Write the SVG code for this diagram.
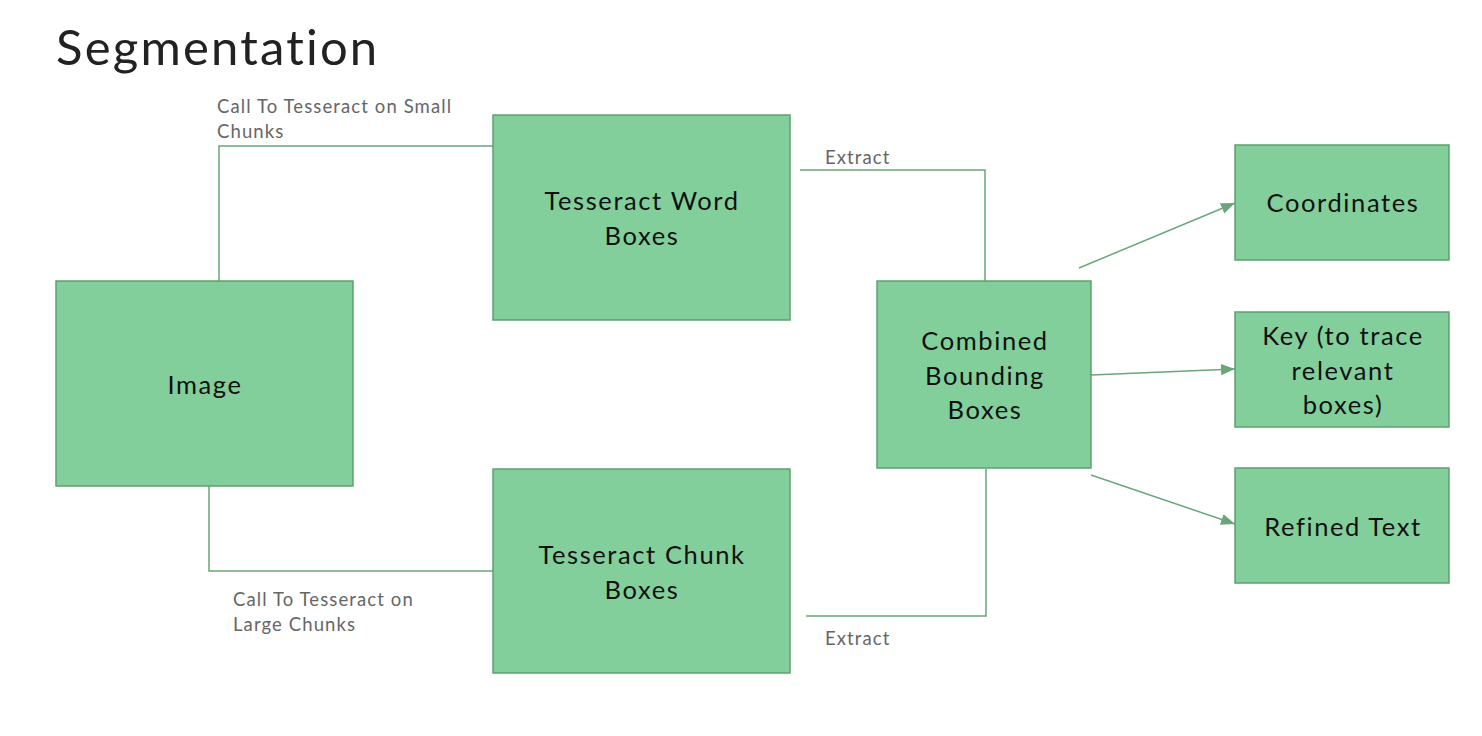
<svg xmlns="http://www.w3.org/2000/svg" width="1482" height="736" viewBox="0 0 1482 736">
<defs>
<style>
.box{fill:#82cf9c;stroke:#5f9f70;stroke-width:1.5}
.nt{font-family:Lato,"Open Sans",sans-serif;font-size:25.5px;letter-spacing:1.6px;fill:#111;text-anchor:middle}
.lb{font-family:Lato,"Open Sans",sans-serif;font-size:18.5px;letter-spacing:1.1px;fill:#666}
.cn{fill:none;stroke:#6aa67a;stroke-width:1.5}
</style>
<marker id="ah2" viewBox="0 0 10 10" refX="10" refY="5" markerWidth="14" markerHeight="14" orient="auto" markerUnits="userSpaceOnUse">
<path d="M0,1 L10,5 L0,9 z" fill="#6aa67a"/>
</marker>
</defs>
<rect width="1482" height="736" fill="#fff"/>
<text x="56" y="65" font-family="Lato,'Open Sans',sans-serif" font-size="49" letter-spacing="2.2" fill="#222">Segmentation</text>
<g id="connectors">
<path class="cn" d="M219,284 V146 H493"/>
<path class="cn" d="M209,484 V571 H493"/>
<path class="cn" d="M800,170 H985 V281"/>
<path class="cn" d="M806,616 H986 V469"/>
<line class="cn" x1="1079" y1="268" x2="1235" y2="203" marker-end="url(#ah2)"/>
<line class="cn" x1="1091" y1="375" x2="1235" y2="369" marker-end="url(#ah2)"/>
<line class="cn" x1="1091" y1="475" x2="1235" y2="524" marker-end="url(#ah2)"/>
<text class="lb" x="217" y="113">Call To Tesseract on Small</text>
<text class="lb" x="217" y="138">Chunks</text>
<text class="lb" x="233" y="606">Call To Tesseract on</text>
<text class="lb" x="233" y="631">Large Chunks</text>
<text class="lb" x="825" y="164">Extract</text>
<text class="lb" x="825" y="645">Extract</text>
</g>
<g id="image"><rect class="box" x="56" y="281" width="297" height="205"/><text class="nt" x="205" y="394">Image</text></g>
<g id="word"><rect class="box" x="493" y="115" width="297" height="205"/><text class="nt" x="642" y="210">Tesseract Word</text><text class="nt" x="642" y="245">Boxes</text></g>
<g id="chunk"><rect class="box" x="493" y="469" width="297" height="204"/><text class="nt" x="642" y="564">Tesseract Chunk</text><text class="nt" x="642" y="599">Boxes</text></g>
<g id="combined"><rect class="box" x="877" y="281" width="214" height="187"/><text class="nt" x="985" y="350">Combined</text><text class="nt" x="985" y="385">Bounding</text><text class="nt" x="985" y="419">Boxes</text></g>
<g id="coords"><rect class="box" x="1235" y="145" width="214" height="115"/><text class="nt" x="1343" y="212">Coordinates</text></g>
<g id="key"><rect class="box" x="1235" y="312" width="214" height="115"/><text class="nt" x="1343" y="345">Key (to trace</text><text class="nt" x="1343" y="380">relevant</text><text class="nt" x="1343" y="414">boxes)</text></g>
<g id="refined"><rect class="box" x="1235" y="468" width="214" height="115"/><text class="nt" x="1343" y="536">Refined Text</text></g>
</svg>
